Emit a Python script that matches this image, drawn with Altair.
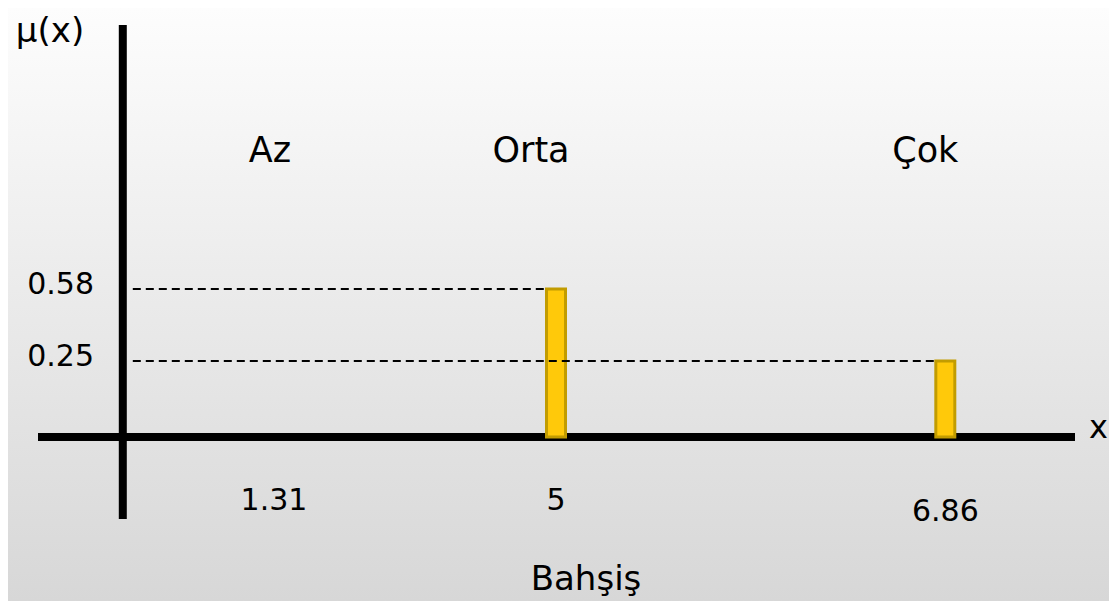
import altair as alt
import pandas as pd

# ---- data ----
x_values = [1.31, 5, 6.86]
x_labels = ["1.31", "5", "6.86"]
categories = ["Az", "Orta", "Çok"]
bar_x = [5, 6.86]
bar_mu = [0.58, 0.25]
y_ticks = [0.58, 0.25]
y_tick_labels = ["0.58", "0.25"]

W, H = 1101, 593
FONT = "DejaVu Sans"

xs = alt.Scale(domain=[0, 1.31, 5, 6.86], range=[110, 266, 548, 946],
               nice=False, zero=False)
ys = alt.Scale(domain=[0, 0.25, 0.58, 1], range=[429, 353, 281, 40],
               nice=False, zero=False)

bars_df = pd.DataFrame({"x": bar_x, "mu": bar_mu, "x0": [0] * len(bar_x), "y0": [0] * len(bar_x)})
yt_df = pd.DataFrame({"mu": y_ticks, "label": y_tick_labels})
origin = pd.DataFrame({"x0": [0], "y0": [0]})
one = pd.DataFrame({"k": [0]})

bg = alt.Chart(one).mark_rect(
    fill=alt.Gradient(
        gradient="linear",
        stops=[alt.GradientStop(color="#FDFDFD", offset=0),
               alt.GradientStop(color="#D7D7D7", offset=1)],
        x1=0, x2=0, y1=0, y2=1,
    )
).encode(x=alt.value(0), x2=alt.value(W), y=alt.value(0), y2=alt.value(H))

v_axis = alt.Chart(origin).mark_rule(color="black", strokeWidth=8).encode(
    x=alt.X("x0:Q", scale=xs, axis=None), y=alt.value(17), y2=alt.value(511))
h_axis = alt.Chart(origin).mark_rule(color="black", strokeWidth=8).encode(
    y=alt.Y("y0:Q", scale=ys, axis=None), x=alt.value(30), x2=alt.value(1067))

bars = alt.Chart(bars_df).mark_bar(
    size=19, fill="#FFC90A", stroke="#C29C00", strokeWidth=3
).encode(
    x=alt.X("x:Q", scale=xs, axis=None),
    y=alt.Y("mu:Q", scale=ys, axis=None),
    y2=alt.Y2("y0"),
)

dashes = alt.Chart(bars_df).mark_rule(
    color="black", strokeWidth=2, strokeDash=[8, 5], xOffset=10, x2Offset=-11
).encode(
    x=alt.X("x0:Q", scale=xs, axis=None),
    x2=alt.X2("x"),
    y=alt.Y("mu:Q", scale=ys, axis=None),
)

ytext = alt.Chart(yt_df).mark_text(
    font=FONT, fontSize=30, align="right", baseline="middle", color="black", dy=-4
).encode(
    y=alt.Y("mu:Q", scale=ys, axis=None),
    x=alt.value(86),
    text="label:N",
)

layers = [bg, v_axis, h_axis, bars, dashes, ytext]

# x tick labels under the axis
xlab_dy = {"1.31": 0, "5": 0, "6.86": 11}
for v, lab in zip(x_values, x_labels):
    d = pd.DataFrame({"x": [v], "label": [lab]})
    layers.append(
        alt.Chart(d).mark_text(
            font=FONT, fontSize=30, align="center", baseline="middle",
            color="black", dy=xlab_dy[lab]
        ).encode(x=alt.X("x:Q", scale=xs, axis=None), y=alt.value(493), text="label:N")
    )

# fuzzy set names
cat_dx = {"Az": -4, "Orta": -25, "Çok": -20}
for v, lab in zip(x_values, categories):
    d = pd.DataFrame({"x": [v], "label": [lab]})
    layers.append(
        alt.Chart(d).mark_text(
            font=FONT, fontSize=35, align="center", baseline="middle",
            color="black", dx=cat_dx[lab]
        ).encode(x=alt.X("x:Q", scale=xs, axis=None), y=alt.value(143), text="label:N")
    )

mu_lbl = alt.Chart(one).mark_text(
    text="μ(x)", font=FONT, fontSize=34, align="center", baseline="middle", color="black"
).encode(x=alt.value(42), y=alt.value(24))

x_lbl = alt.Chart(one).mark_text(
    text="x", font=FONT, fontSize=32, align="left", baseline="middle", color="black"
).encode(x=alt.value(1081), y=alt.value(420))

title_lbl = alt.Chart(one).mark_text(
    text="Bahşiş", font=FONT, fontSize=34, align="center", baseline="alphabetic", color="black"
).encode(x=alt.value(578), y=alt.value(582))

layers += [mu_lbl, x_lbl, title_lbl]

chart = alt.layer(*layers).properties(
    width=W, height=H, autosize=alt.AutoSizeParams(type="none"), padding=0
).configure_view(stroke=None)

chart.save("out.html", embed_options={"renderer": "svg", "actions": False})
